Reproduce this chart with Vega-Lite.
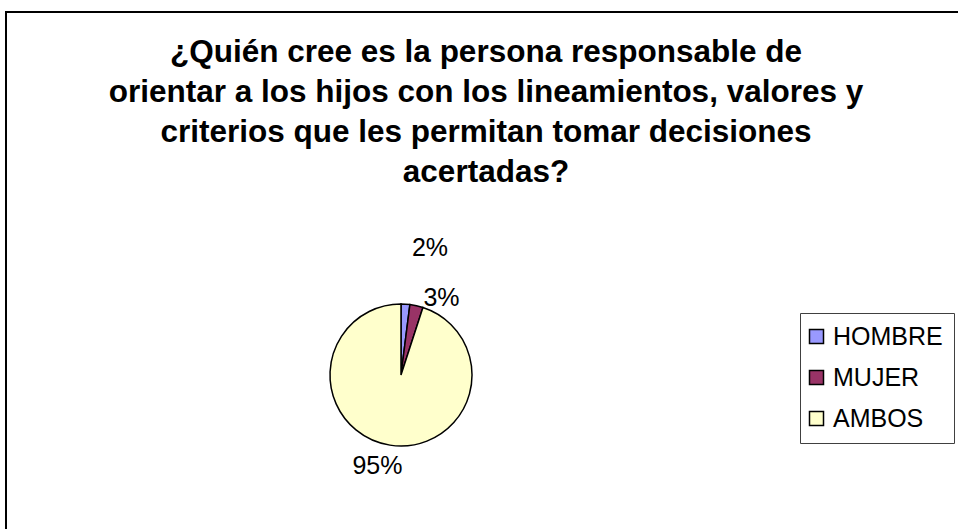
{
  "$schema": "https://vega.github.io/schema/vega-lite/v6.json",
  "autosize": {"type": "none"},
  "padding": {"left": 6, "top": 12, "right": 0, "bottom": 0},
  "width": 960,
  "height": 525,
  "background": "white",
  "view": {"stroke": "black", "strokeWidth": 2, "fill": "white"},
  "config": {
    "view": {"stroke": "black", "strokeWidth": 2},
    "font": "Liberation Sans"
  },
  "title": {
    "text": [
      "¿Quién cree es la persona responsable de",
      "orientar a los hijos con los lineamientos, valores y",
      "criterios que les permitan tomar decisiones",
      "acertadas?"
    ],
    "font": "Liberation Sans",
    "fontSize": 31.5,
    "fontWeight": "bold",
    "lineHeight": 40,
    "color": "black",
    "anchor": "middle",
    "baseline": "top",
    "offset": -176
  },
  "data": {
    "values": [
      {"respuesta": "HOMBRE", "valor": 2, "orden": 1, "etiqueta": "2%"},
      {"respuesta": "MUJER", "valor": 3, "orden": 2, "etiqueta": "3%"},
      {"respuesta": "AMBOS", "valor": 95, "orden": 3, "etiqueta": "95%"}
    ]
  },
  "encoding": {
    "theta": {"field": "valor", "type": "quantitative", "stack": true},
    "order": {"field": "orden", "type": "quantitative"}
  },
  "layer": [
    {
      "mark": {"type": "arc", "x": 395, "y": 363, "outerRadius": 71, "stroke": "black", "strokeWidth": 1.5},
      "encoding": {
        "color": {
          "field": "respuesta",
          "type": "nominal",
          "scale": {"domain": ["HOMBRE", "MUJER", "AMBOS"], "range": ["#9999FF", "#993366", "#FFFFCC"]},
          "legend": {
            "title": null,
            "orient": "none",
            "legendX": 794,
            "legendY": 301,
            "padding": 11,
            "strokeColor": "#404040",
            "fillColor": "white",
            "symbolType": "square",
            "symbolSize": 196,
            "symbolStrokeColor": "black",
            "symbolStrokeWidth": 1.5,
            "symbolOpacity": 1,
            "symbolOffset": -7,
            "labelFont": "Liberation Sans",
            "labelFontSize": 25,
            "labelColor": "black",
            "labelOffset": 4,
            "rowPadding": 15,
            "labelLimit": 300
          }
        }
      }
    },
    {
      "transform": [{"filter": "datum.respuesta == 'HOMBRE'"}],
      "mark": {"type": "text", "x": 395, "y": 363, "radius": 127, "dx": 21, "font": "Liberation Sans", "fontSize": 25, "color": "black", "align": "center", "baseline": "middle"},
      "encoding": {"text": {"field": "etiqueta"}}
    },
    {
      "transform": [{"filter": "datum.respuesta == 'MUJER'"}],
      "mark": {"type": "text", "x": 395, "y": 363, "radius": 80, "dx": 33, "dy": 3, "font": "Liberation Sans", "fontSize": 25, "color": "black", "align": "center", "baseline": "middle"},
      "encoding": {"text": {"field": "etiqueta"}}
    },
    {
      "transform": [{"filter": "datum.respuesta == 'AMBOS'"}],
      "mark": {"type": "text", "x": 395, "y": 363, "radius": 92, "dx": -38, "font": "Liberation Sans", "fontSize": 25, "color": "black", "align": "center", "baseline": "middle"},
      "encoding": {"text": {"field": "etiqueta"}}
    }
  ]
}
